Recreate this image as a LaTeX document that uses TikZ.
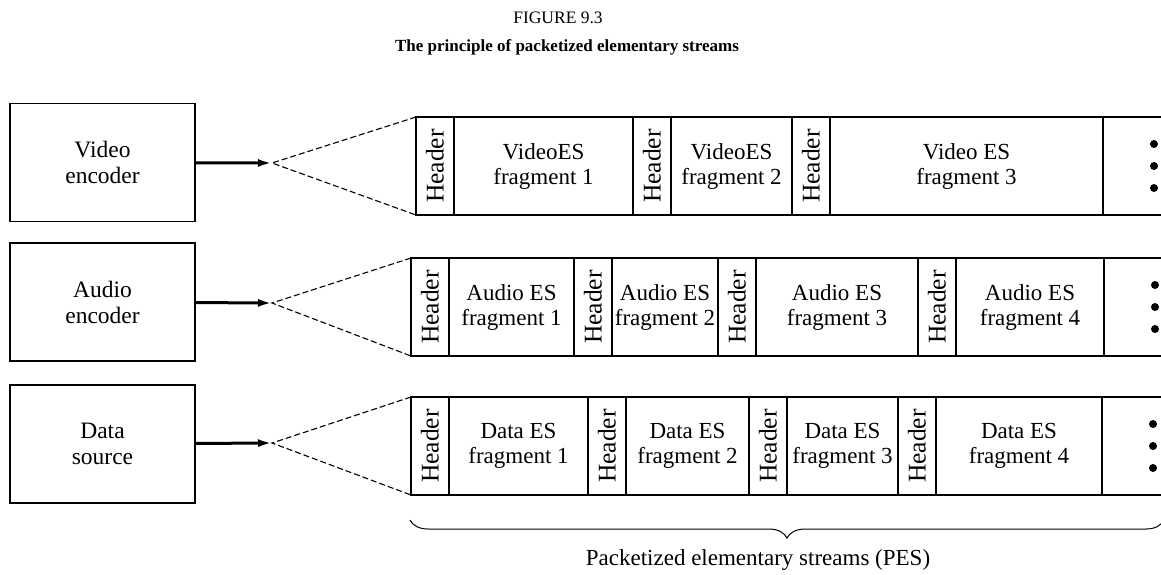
\documentclass[tikz,border=0pt]{standalone}
\usepackage{fontspec}
\setmainfont{Liberation Serif}
\usetikzlibrary{positioning,arrows.meta,decorations.pathreplacing}

\begin{document}
\begin{tikzpicture}[x=1pt, y=-1pt, line width=1.1pt,
    src/.style = {draw, minimum width=185pt, minimum height=118pt, inner sep=0pt, align=center, font=\fontsize{23.5}{26}\selectfont},
    hdr/.style = {draw, outer sep=0pt, inner sep=0pt, minimum width=38pt, minimum height=98pt, font=\fontsize{25.5}{26}\selectfont},
    frag/.style = {draw, outer sep=0pt, inner sep=0pt, minimum height=98pt, align=center, font=\fontsize{23}{25}\selectfont},
    feed/.style = {-{Latex[length=14pt,width=8pt]}, line width=3pt},
    fan/.style = {line width=1.1pt, dash pattern=on 6pt off 3pt}]
    \clip (0,0) rectangle (1161,574);
    \node[font=\fontsize{17.5}{20}\selectfont] (fig) at (558,18) {FIGURE 9.3};
    \node[font=\fontsize{17}{20}\selectfont\bfseries] (title) at (567,47) {The principle of packetized elementary streams};
    % sources
    \node[src] (vid) at (102.5,162.5) {Video\\encoder};
    \node[src] (aud) at (102.5,302) {Audio\\encoder};
    \node[src] (dat) at (102.5,444) {Data\\source};
    \coordinate (vtip) at (272,163);
    \coordinate (atip) at (272,303);
    \coordinate (dtip) at (272,443);
    % video stream
    \node[hdr, anchor=north west] (h11) at (416,117) {\rotatebox{90}{Header}};
    \node[frag, minimum width=179pt] (f11) [right=0pt of h11] {VideoES\\fragment 1};
    \node[hdr] (h12) [right=0pt of f11] {\rotatebox{90}{Header}};
    \node[frag, minimum width=121pt] (f12) [right=0pt of h12] {VideoES\\fragment 2};
    \node[hdr] (h13) [right=0pt of f12] {\rotatebox{90}{Header}};
    \node[frag, minimum width=273pt] (f13) [right=0pt of h13] {Video ES\\fragment 3};
    \node[frag, minimum width=90pt] (v1) [right=0pt of f13] {};
    % audio stream
    \node[hdr, anchor=north west] (h21) at (411,258) {\rotatebox{90}{Header}};
    \node[frag, minimum width=125pt] (f21) [right=0pt of h21] {Audio ES\\fragment 1};
    \node[hdr] (h22) [right=0pt of f21] {\rotatebox{90}{Header}};
    \node[frag, minimum width=106pt] (f22) [right=0pt of h22] {Audio ES\\fragment 2};
    \node[hdr] (h23) [right=0pt of f22] {\rotatebox{90}{Header}};
    \node[frag, minimum width=162pt] (f23) [right=0pt of h23] {Audio ES\\fragment 3};
    \node[hdr] (h24) [right=0pt of f23] {\rotatebox{90}{Header}};
    \node[frag, minimum width=148pt] (f24) [right=0pt of h24] {Audio ES\\fragment 4};
    \node[frag, minimum width=90pt] (v2) [right=0pt of f24] {};
    % data stream
    \node[hdr, anchor=north west] (h31) at (411,397) {\rotatebox{90}{Header}};
    \node[frag, minimum width=139pt] (f31) [right=0pt of h31] {Data ES\\fragment 1};
    \node[hdr] (h32) [right=0pt of f31] {\rotatebox{90}{Header}};
    \node[frag, minimum width=123pt] (f32) [right=0pt of h32] {Data ES\\fragment 2};
    \node[hdr] (h33) [right=0pt of f32] {\rotatebox{90}{Header}};
    \node[frag, minimum width=111pt] (f33) [right=0pt of h33] {Data ES\\fragment 3};
    \node[hdr] (h34) [right=0pt of f33] {\rotatebox{90}{Header}};
    \node[frag, minimum width=166pt] (f34) [right=0pt of h34] {Data ES\\fragment 4};
    \node[frag, minimum width=90pt] (v3) [right=0pt of f34] {};
    % dots
    \foreach \v in {v1,v2,v3}
        \foreach \dy in {-22,0,22}
            \fill ([xshift=51pt,yshift=\dy pt]\v.west) circle (4pt);
    % arrows and fans
    \draw[feed] (vid) -- (vtip);
    \draw[feed] (aud) -- (atip);
    \draw[feed] (dat) -- (dtip);
    \draw[fan] (h11.north west) -- (vtip) -- (h11.south west);
    \draw[fan] (h21.north west) -- (atip) -- (h21.south west);
    \draw[fan] (h31.north west) -- (dtip) -- (h31.south west);
    % brace
    \coordinate (bl) at (410,520);
    \coordinate (br) at (1164,520);
    \draw[line width=1pt, decorate, decoration={brace, mirror, amplitude=18pt}] (bl) -- (br);
    \node[font=\fontsize{23}{25}\selectfont] (pes) at (758,560) {Packetized elementary streams (PES)};
\end{tikzpicture}
\end{document}
